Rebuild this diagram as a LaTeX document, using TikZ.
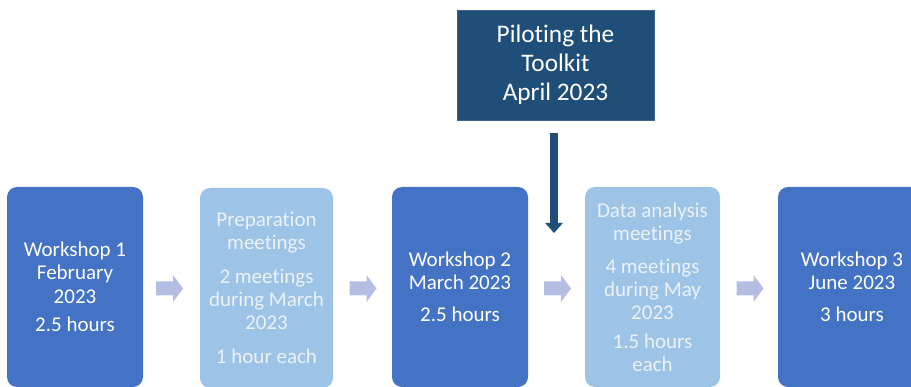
\documentclass[tikz,border=0pt]{standalone}
\usepackage{fontspec}
\setmainfont{Carlito}[Ligatures=NoCommon]
\usetikzlibrary{arrows.meta}
\definecolor{darkbox}{RGB}{68,114,196}
\definecolor{lightbox}{RGB}{157,195,230}
\definecolor{navy}{RGB}{31,78,121}
\definecolor{navyedge}{RGB}{60,100,140}
\definecolor{chev}{RGB}{180,190,228}
\definecolor{paletext}{RGB}{236,242,250}
\tikzset{
  stagebox/.style={rounded corners=10pt, minimum height=200pt, inner sep=0pt,
    align=center, font=\fontsize{21}{23}\selectfont, text=white},
  darkstage/.style={stagebox, fill=darkbox},
  lightstage/.style={stagebox, fill=lightbox, text=paletext},
  pilotbox/.style={fill=navy, draw=navyedge, line width=0.6pt, minimum width=197pt,
    minimum height=110pt, align=center, text=white, font=\fontsize{25.3}{29}\selectfont},
  chevron/.style={fill=chev, draw=none},
  downarrow/.style={draw=navy, line width=8pt, -{Triangle[width=17pt,length=10pt]}}
}
\newcommand\chevronat[1]{\fill[chevron] (#1) ++(-13.5,-7) -- ++(17,0) -- ++(0,-6.5)
  -- ++(10,13.5) -- ++(-10,13.5) -- ++(0,-6.5) -- ++(-17,0) -- cycle;}
\begin{document}
\begin{tikzpicture}[x=1pt,y=-1pt]
\useasboundingbox (0,0) rectangle (911,387);
\node[darkstage, minimum width=136pt, font=\fontsize{21}{23.5}\selectfont] (w1) at (75,287)
  {Workshop 1\\February\\2023\\[5pt]2.5 hours};
\node[lightstage, minimum width=133pt] (prep) at (266.5,288)
  {Preparation\\meetings\\[11pt]2 meetings\\during March\\2023\\[11pt]1 hour each};
\node[darkstage, minimum width=136pt] (w2) at (460,287)
  {Workshop 2\\March 2023\\[9pt]2.5 hours};
\node[lightstage, minimum width=135pt] (data) at (652.5,287)
  {Data analysis\\meetings\\[10pt]4 meetings\\during May\\2023\\[6pt]1.5 hours\\each};
\node[darkstage, minimum width=148pt] (w3) at (852,287)
  {Workshop 3\\June 2023\\[9pt]3 hours};
\node[pilotbox] (pilot) at (555.5,65) {Piloting the\\Toolkit\\April 2023};
\coordinate (a1) at (169.5,288.5);
\coordinate (a2) at (363,288.5);
\coordinate (a3) at (557.5,288.5);
\coordinate (a4) at (750,288.5);
\chevronat{a1}\chevronat{a2}\chevronat{a3}\chevronat{a4}
\coordinate (ptop) at ([yshift=-13pt]pilot.south -| 554,0);
\coordinate (pend) at (554,233);
\draw[downarrow] (ptop) -- (pend);
\end{tikzpicture}
\end{document}
